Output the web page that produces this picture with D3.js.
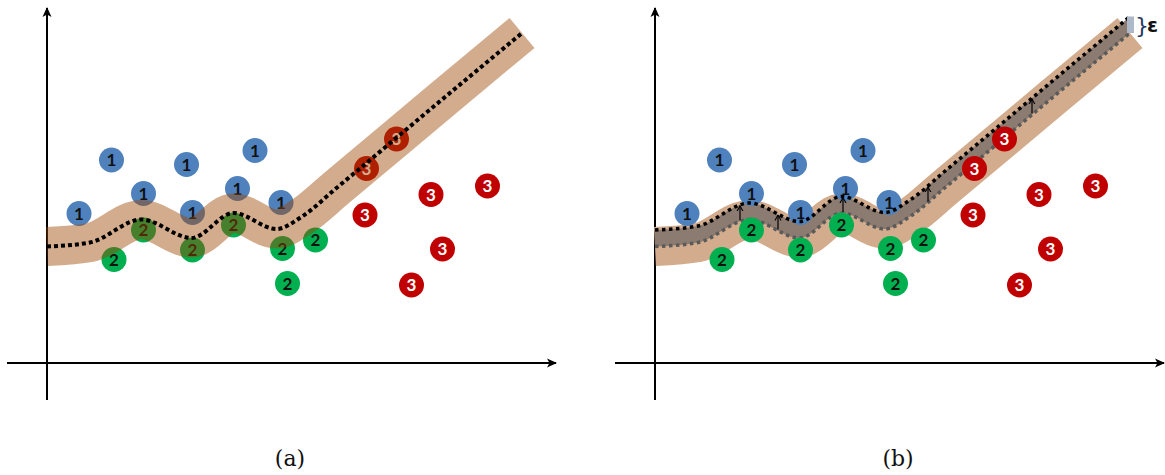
<!DOCTYPE html>
<html>
<head>
<meta charset="utf-8">
<script src="https://cdn.jsdelivr.net/npm/d3@7"></script>
<style>
  body { margin: 0; background: #fff; }
  svg { display: block; }
</style>
</head>
<body>
<svg id="chart" width="1165" height="475"></svg>
<script>
// Samples of the three classes (x, y in plot units)
const class1X = [12.9, 27.9, 41.6, 19.3, 38.1, 6.4, 29.1, 46.8];
const class1Y = [40.6, 39.7, 42.5, 33.9, 34.9, 29.9, 30.1, 32.1];
const class2X = [19.3, 13.4, 29.1, 37.3, 47.1, 53.7, 48.1];
const class2Y = [26.6, 20.7, 22.6, 27.6, 22.9, 24.6, 15.9];
const class3X = [69.9, 63.9, 76.8, 88.1, 63.6, 79.1, 72.9];
const class3Y = [44.8, 38.9, 33.7, 35.4, 29.6, 22.8, 15.6];
const classNames = ["1", "2", "3"];

// Fitted curve f(x) and its tolerance tube
const curveX = [0, 8.6, 18.9, 28.9, 37.3, 45.9, 51, 57.9, 78.9, 95];
const curveY = [23.3, 24.1, 28.7, 25.0, 30.0, 26.8, 29.3, 35.0, 52.6, 66];
const epsilon = 3.3;

// Where the shift arrows are drawn in panel (b)
const arrowX = [17, 24.6, 37.6, 54.6, 75.4];

const panelLabels = ["(a)", "(b)"];

const svg = d3.select("#chart");

const x = d3.scaleLinear().domain([0, 100]).range([0, 500]);
const y = d3.scaleLinear().domain([0, 70]).range([363, 13]);

const classColor = d3.scaleOrdinal().domain(classNames).range(["#4F81BD", "#00B050", "#C00000"]);
const textColor = d3.scaleOrdinal().domain(classNames).range(["#111", "#111", "#fff"]);

const points = [
  ...class1X.map((v, i) => ({ x: v, y: class1Y[i], c: "1" })),
  ...class2X.map((v, i) => ({ x: v, y: class2Y[i], c: "2" })),
  ...class3X.map((v, i) => ({ x: v, y: class3Y[i], c: "3" }))
];
const curve = curveX.map((v, i) => ({ x: v, y: curveY[i] }));

const line = d3.line().x(d => x(d.x)).y(d => y(d.y)).curve(d3.curveMonotoneX);
const lineShift = d3.line().x(d => x(d.x)).y(d => y(d.y + epsilon)).curve(d3.curveMonotoneX);
const tube = d3.area().x(d => x(d.x)).y0(d => y(d.y)).y1(d => y(d.y + epsilon)).curve(d3.curveMonotoneX);

const defs = svg.append("defs");
defs.append("marker")
  .attr("id", "axisHead")
  .attr("viewBox", "0 -5 10 10")
  .attr("refX", 9).attr("refY", 0)
  .attr("markerWidth", 10).attr("markerHeight", 10)
  .attr("markerUnits", "userSpaceOnUse")
  .attr("orient", "auto")
  .append("path")
  .attr("d", "M0,-4.5 L10,0 L0,4.5 L2.5,0 Z")
  .attr("fill", "#000");
defs.append("marker")
  .attr("id", "shiftHead")
  .attr("viewBox", "0 -4 6 8")
  .attr("refX", 5.5).attr("refY", 0)
  .attr("markerWidth", 6).attr("markerHeight", 8)
  .attr("markerUnits", "userSpaceOnUse")
  .attr("orient", "auto")
  .append("path")
  .attr("d", "M0,-3 L5.5,0 L0,3")
  .attr("fill", "none")
  .attr("stroke", "#000")
  .attr("stroke-width", 1.1);

function drawAxes(g) {
  g.append("line")
    .attr("x1", x(-8)).attr("x2", x(101.8))
    .attr("y1", y(0)).attr("y2", y(0))
    .attr("stroke", "#000").attr("stroke-width", 2)
    .attr("marker-end", "url(#axisHead)");
  g.append("line")
    .attr("x1", x(0)).attr("x2", x(0))
    .attr("y1", y(-7.4)).attr("y2", y(71))
    .attr("stroke", "#000").attr("stroke-width", 2)
    .attr("marker-end", "url(#axisHead)");
}

function drawPoints(g) {
  const p = g.append("g").selectAll("g").data(points).join("g")
    .attr("transform", d => `translate(${x(d.x)},${y(d.y)})`);
  p.append("circle").attr("r", 12.5).attr("fill", d => classColor(d.c));
  p.append("text")
    .attr("text-anchor", "middle")
    .attr("dy", "0.37em")
    .attr("font-family", "Lato, 'Open Sans', sans-serif")
    .attr("font-weight", "bold")
    .attr("font-size", 17)
    .attr("fill", d => textColor(d.c))
    .text(d => d.c);
}

function drawCaption(g, label) {
  g.append("text")
    .attr("x", x(48.6)).attr("y", 466)
    .attr("text-anchor", "middle")
    .attr("font-family", "'DejaVu Serif', 'Liberation Serif', serif")
    .attr("font-size", 22)
    .attr("fill", "#111")
    .text(label);
}

// ---- Panel (a): regression band laid over the samples ----
const ga = svg.append("g").attr("transform", "translate(47,0)");
drawAxes(ga);
drawPoints(ga);
ga.append("path")
  .attr("d", line(curve))
  .attr("fill", "none")
  .attr("stroke", "rgb(155,71,2)")
  .attr("stroke-opacity", 0.45)
  .attr("stroke-width", 39);
ga.append("path")
  .attr("d", line(curve))
  .attr("fill", "none")
  .attr("stroke", "#000")
  .attr("stroke-width", 4)
  .attr("stroke-dasharray", "4 3");
drawCaption(ga, panelLabels[0]);

// ---- Panel (b): curve shifted by epsilon ----
const gb = svg.append("g").attr("transform", "translate(655,0)");
drawAxes(gb);
gb.append("path")
  .attr("d", line(curve))
  .attr("fill", "none")
  .attr("stroke", "#D2AC8D")
  .attr("stroke-width", 39);
gb.append("path")
  .attr("d", tube(curve))
  .attr("fill", "#8C7B70");
const fPath = gb.append("path")
  .attr("d", line(curve))
  .attr("fill", "none")
  .attr("stroke", "#5A5A5A")
  .attr("stroke-width", 3.5)
  .attr("stroke-dasharray", "3.5 3.5");
drawPoints(gb);
gb.append("path")
  .attr("d", lineShift(curve))
  .attr("fill", "none")
  .attr("stroke", "#000")
  .attr("stroke-width", 3.5)
  .attr("stroke-dasharray", "3.5 3.5");

// look up f at the arrow positions along the rendered curve
const node = fPath.node();
const total = node.getTotalLength();
const samples = d3.range(0, 801).map(i => node.getPointAtLength(total * i / 800));
function fAt(px) {
  let best = samples[0];
  for (const s of samples) if (Math.abs(s.x - px) < Math.abs(best.x - px)) best = s;
  return y.invert(best.y);
}
gb.append("g").selectAll("line").data(arrowX).join("line")
  .attr("x1", d => x(d)).attr("x2", d => x(d))
  .attr("y1", d => y(fAt(x(d))) - 1)
  .attr("y2", d => y(fAt(x(d)) + epsilon) + 1)
  .attr("stroke", "#000")
  .attr("stroke-width", 1.2)
  .attr("marker-end", "url(#shiftHead)");

// epsilon marker at the end of the tube
const last = curve[curve.length - 1];
gb.append("rect")
  .attr("x", x(last.x) - 3).attr("width", 7)
  .attr("y", y(last.y + epsilon)).attr("height", y(last.y) - y(last.y + epsilon))
  .attr("fill", "#ADB9CA");
gb.append("text")
  .attr("x", x(last.x) + 5).attr("y", y(last.y + epsilon) + 16)
  .attr("font-family", "'DejaVu Sans', sans-serif")
  .attr("font-size", 22)
  .attr("fill", "#1F3864")
  .text("}");
gb.append("text")
  .attr("x", x(last.x) + 17).attr("y", y(last.y + epsilon) + 15)
  .attr("font-family", "'DejaVu Sans', sans-serif")
  .attr("font-weight", "bold")
  .attr("font-size", 20)
  .attr("fill", "#111")
  .text("ε");
drawCaption(gb, panelLabels[1]);
</script>
</body>
</html>
